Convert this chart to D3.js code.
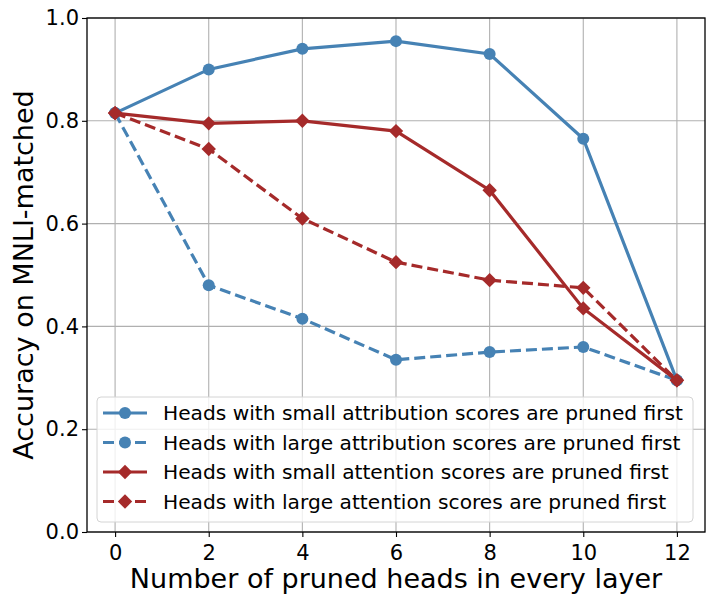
<!DOCTYPE html>
<html>
<head>
<meta charset="utf-8">
<script src="https://cdn.jsdelivr.net/npm/d3@7"></script>
<style>
  body { margin: 0; background: #fff; }
  text { font-family: "DejaVu Sans", sans-serif; }
</style>
</head>
<body>
<svg id="chart" width="715" height="605"></svg>
<script>
// pruned heads per layer
var prunedHeads = [0, 2, 4, 6, 8, 10, 12];

// accuracy on MNLI-matched
var attrSmallFirst = [0.815, 0.900, 0.940, 0.955, 0.930, 0.765, 0.295];
var attrLargeFirst = [0.815, 0.480, 0.415, 0.335, 0.350, 0.360, 0.295];
var attnSmallFirst = [0.815, 0.795, 0.800, 0.780, 0.665, 0.435, 0.295];
var attnLargeFirst = [0.815, 0.745, 0.610, 0.525, 0.490, 0.475, 0.295];

var seriesLabels = [
    "Heads with small attribution scores are pruned first",
    "Heads with large attribution scores are pruned first",
    "Heads with small attention scores are pruned first",
    "Heads with large attention scores are pruned first"
];

var xTicks = [0, 2, 4, 6, 8, 10, 12];
var yTicks = [0.0, 0.2, 0.4, 0.6, 0.8, 1.0];

var blue = "#4682b4", red = "#a52a2a";

var series = [
    {name: seriesLabels[0], values: attrSmallFirst, color: blue, dashed: false, marker: "circle"},
    {name: seriesLabels[1], values: attrLargeFirst, color: blue, dashed: true, marker: "circle"},
    {name: seriesLabels[2], values: attnSmallFirst, color: red, dashed: false, marker: "diamond"},
    {name: seriesLabels[3], values: attnLargeFirst, color: red, dashed: true, marker: "diamond"}
];

var svg = d3.select("#chart"),
    margin = {top: 18, left: 87, bottom: 73, right: 10},
    width = +svg.attr("width"),
    height = +svg.attr("height");

var x = d3.scaleLinear()
    .domain([-0.6, 12.6])
    .range([margin.left, width - margin.right]);

var y = d3.scaleLinear()
    .domain([0, 1])
    .range([height - margin.bottom, margin.top]);

// grid
var grid = svg.append("g").attr("stroke", "#b0b0b0").attr("stroke-width", 1.1);
grid.selectAll("line.vx").data(xTicks).enter().append("line")
    .attr("x1", d => x(d)).attr("x2", d => x(d))
    .attr("y1", y(0)).attr("y2", y(1));
grid.selectAll("line.hy").data(yTicks).enter().append("line")
    .attr("x1", x.range()[0]).attr("x2", x.range()[1])
    .attr("y1", d => y(d)).attr("y2", d => y(d));

// axes
var xAxis = svg.append("g")
    .attr("transform", `translate(0,${y(0)})`)
    .call(d3.axisBottom(x).tickValues(xTicks).tickSize(5).tickPadding(8).tickSizeOuter(0));
var yAxis = svg.append("g")
    .attr("transform", `translate(${x.range()[0]},0)`)
    .call(d3.axisLeft(y).tickValues(yTicks).tickFormat(d3.format(".1f")).tickSize(5).tickPadding(3).tickSizeOuter(0));
[xAxis, yAxis].forEach(function(a) {
    a.select(".domain").remove();
    a.selectAll(".tick line").attr("stroke", "#000").attr("stroke-width", 1.1);
    a.selectAll(".tick text").attr("font-size", 21).attr("fill", "#000")
        .style("font-family", "'DejaVu Sans', sans-serif");
});

// frame
svg.append("rect")
    .attr("x", x.range()[0]).attr("y", y(1))
    .attr("width", x.range()[1] - x.range()[0])
    .attr("height", y(0) - y(1))
    .attr("fill", "none").attr("stroke", "#000").attr("stroke-width", 1.3);

var line = d3.line()
    .x((d, i) => x(prunedHeads[i]))
    .y(d => y(d));

function drawMarker(sel, kind, color) {
    if (kind === "circle") {
        sel.append("circle").attr("r", 6).attr("fill", color);
    } else {
        sel.append("path").attr("d", "M0,-7.2L7.2,0L0,7.2L-7.2,0Z").attr("fill", color);
    }
}

series.forEach(function(s) {
    svg.append("path")
        .datum(s.values)
        .attr("fill", "none")
        .attr("stroke", s.color)
        .attr("stroke-width", 3.2)
        .attr("stroke-dasharray", s.dashed ? "11,5" : null)
        .attr("d", line);
    svg.append("g").selectAll("g")
        .data(s.values).enter().append("g")
        .attr("transform", (d, i) => `translate(${x(prunedHeads[i])},${y(d)})`)
        .each(function() { drawMarker(d3.select(this), s.marker, s.color); });
});

// legend
var legend = svg.append("g").attr("transform", "translate(97,397)");
legend.append("rect")
    .attr("width", 596).attr("height", 125).attr("rx", 4)
    .attr("fill", "#fff").attr("fill-opacity", 0.8)
    .attr("stroke", "#d4d4d4").attr("stroke-width", 1);
var item = legend.selectAll("g.item").data(series).enter().append("g")
    .attr("class", "item")
    .attr("transform", (d, i) => `translate(0,${16 + i * 29.5})`);
item.append("line")
    .attr("x1", 6).attr("x2", 50)
    .attr("stroke", d => d.color).attr("stroke-width", 3.2)
    .attr("stroke-dasharray", d => d.dashed ? "11,5" : null);
item.each(function(d) {
    var g = d3.select(this).append("g").attr("transform", "translate(28,0)");
    drawMarker(g, d.marker, d.color);
});
item.append("text")
    .attr("x", 66).attr("dy", "0.35em")
    .attr("font-size", 20.2)
    .text(d => d.name);

// axis labels
svg.append("text")
    .attr("x", (x.range()[0] + x.range()[1]) / 2)
    .attr("y", 588)
    .attr("text-anchor", "middle")
    .attr("font-size", 27)
    .text("Number of pruned heads in every layer");
svg.append("text")
    .attr("transform", `translate(33,${(y(0) + y(1)) / 2}) rotate(-90)`)
    .attr("text-anchor", "middle")
    .attr("font-size", 27)
    .text("Accuracy on MNLI-matched");
</script>
</body>
</html>
